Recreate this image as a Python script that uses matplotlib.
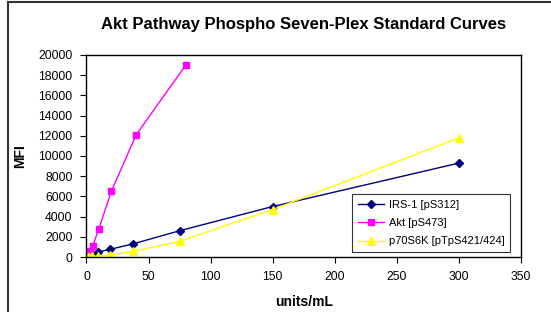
import matplotlib.pyplot as plt
from matplotlib.lines import Line2D

# Data
irs_x = [1.17, 2.34, 4.69, 9.375, 18.75, 37.5, 75, 150, 300]
irs_y = [100, 200, 330, 500, 750, 1300, 2600, 5000, 9300]

akt_x = [0.625, 1.25, 2.5, 5, 10, 20, 40, 80]
akt_y = [150, 300, 600, 1100, 2800, 6500, 12100, 19000]

p70_x = [1.17, 2.34, 4.69, 9.375, 18.75, 37.5, 75, 150, 300]
p70_y = [20, 40, 60, 100, 200, 550, 1550, 4700, 11800]

labels = ["IRS-1 [pS312]", "Akt [pS473]", "p70S6K [pTpS421/424]"]

plt.rcParams['font.family'] = ['Liberation Sans', 'DejaVu Sans']

fig = plt.figure(figsize=(5.51, 3.12), dpi=100)
ax = fig.add_axes([86.5 / 551, 55 / 312, (521 - 86.5) / 551, (257 - 55) / 312])

ax.plot(irs_x, irs_y, color="#000080", marker="D", markersize=4, lw=1, label=labels[0])
ax.plot(akt_x, akt_y, color="#FF00FF", marker="s", markersize=5, lw=1, label=labels[1])
ax.plot(p70_x, p70_y, color="#FFFF00", marker="^", markersize=6, lw=1, label=labels[2])

ax.set_xlim(0, 350)
ax.set_ylim(0, 20000)
ax.set_xticks(range(0, 351, 50))
ax.set_yticks(range(0, 20001, 2000))
ax.tick_params(labelsize=8.8, direction="out", length=4, width=0.8, pad=6)
for s in ax.spines.values():
    s.set_linewidth(1)
    s.set_color("black")

ax.set_title("Akt Pathway Phospho Seven-Plex Standard Curves", fontsize=12,
             fontweight="bold", pad=19)
ax.set_xlabel("units/mL", fontsize=10, fontweight="bold", labelpad=9)
ax.set_ylabel("MFI", fontsize=10, fontweight="bold", labelpad=8)

leg = ax.legend(loc="lower right", bbox_to_anchor=(0.975, 0.025), fontsize=8,
                frameon=True, fancybox=False, handlelength=2.4, handletextpad=0.4,
                labelspacing=0.75, borderpad=0.5, borderaxespad=0)
leg.get_frame().set_edgecolor("black")
leg.get_frame().set_linewidth(0.8)

# outer chart border (left and top edges visible)
fig.add_artist(Line2D([7.5 / 551, 7.5 / 551], [0, 1 - 2 / 312], color="#333333", lw=1.5))
fig.add_artist(Line2D([7.5 / 551, 1], [1 - 2 / 312, 1 - 2 / 312], color="#333333", lw=1.5))

fig.savefig("out.png", dpi=100)
